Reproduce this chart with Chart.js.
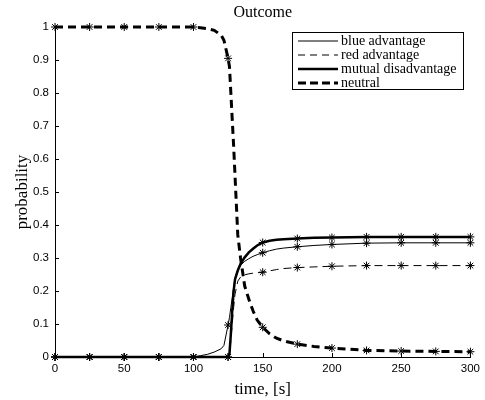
<!DOCTYPE html>
<html>
<head>
<meta charset="utf-8">
<script src="https://cdn.jsdelivr.net/npm/chart.js@4.4.0/dist/chart.umd.min.js"></script>
<style>
  html, body { margin: 0; padding: 0; background: #fff; }
  #wrap { width: 485px; height: 400px; }
</style>
</head>
<body>
<div id="wrap"><canvas id="outcome" width="485" height="400"></canvas></div>
<script>
// time samples, seconds
const times = [0, 25, 50, 75, 100, 105, 110, 115, 120, 122, 125, 126, 127, 128, 129, 130,
  132, 134, 137, 140, 143, 146, 150, 155, 160, 165, 175, 187, 200, 225, 250, 275, 300];

const blueAdvantage = [0, 0, 0, 0, 0, 0.004, 0.008, 0.015, 0.025, 0.035, 0.097, 0.12, 0.15, 0.18, 0.21, 0.24,
  0.265, 0.278, 0.29, 0.298, 0.305, 0.31, 0.316, 0.322, 0.327, 0.33, 0.334, 0.338, 0.341, 0.345, 0.346, 0.346, 0.346];

const redAdvantage = [0, 0, 0, 0, 0, 0, 0, 0, 0, 0, 0, 0.005, 0.05, 0.1, 0.15, 0.19,
  0.23, 0.242, 0.249, 0.252, 0.254, 0.255, 0.257, 0.261, 0.265, 0.268, 0.271, 0.273, 0.275, 0.277, 0.277, 0.277, 0.277];

const mutualDisadvantage = [0, 0, 0, 0, 0, 0, 0, 0, 0, 0, 0, 0.01, 0.07, 0.14, 0.2, 0.235,
  0.262, 0.282, 0.302, 0.317, 0.328, 0.338, 0.347, 0.352, 0.355, 0.357, 0.359, 0.361, 0.362, 0.364, 0.364, 0.364, 0.364];

const neutral = [1, 1, 1, 1, 1, 0.998, 0.995, 0.99, 0.975, 0.96, 0.905, 0.88, 0.8, 0.72, 0.64, 0.55,
  0.37, 0.3, 0.215, 0.175, 0.14, 0.112, 0.09, 0.07, 0.057, 0.049, 0.039, 0.032, 0.027, 0.02, 0.018, 0.017, 0.016];

const xTicks = [0, 50, 100, 150, 200, 250, 300];
const yTicks = [0, 0.1, 0.2, 0.3, 0.4, 0.5, 0.6, 0.7, 0.8, 0.9, 1];

const serif = "'Liberation Serif', 'DejaVu Serif', serif";
const sans = "'Liberation Sans', Arial, sans-serif";

function serie(label, values, width, dash) {
  return {
    label: label,
    data: times.map((t, i) => ({ x: t, y: values[i] })),
    borderColor: "#000",
    backgroundColor: "#000",
    borderWidth: width,
    borderDash: dash,
    tension: 0,
    fill: false,
    clip: false,
    pointStyle: "star",
    pointRadius: times.map((t) => (t % 25 === 0 ? 4 : 0)),
    pointBorderWidth: 1,
    pointBorderColor: "#000",
    pointHoverRadius: 0,
  };
}

const decor = {
  id: "decor",
  beforeDatasetsDraw(chart) {
    const ctx = chart.ctx;
    const area = chart.chartArea;
    const sx = chart.scales.x, sy = chart.scales.y;
    ctx.save();
    ctx.strokeStyle = "#000";
    ctx.lineWidth = 1;
    ctx.beginPath();
    xTicks.forEach((v) => {
      const px = Math.round(sx.getPixelForValue(v)) + 0.5;
      ctx.moveTo(px, area.bottom);
      ctx.lineTo(px, area.bottom - 4);
    });
    yTicks.forEach((v) => {
      const py = Math.round(sy.getPixelForValue(v)) + 0.5;
      ctx.moveTo(area.left, py);
      ctx.lineTo(area.left + 4, py);
    });
    ctx.stroke();
    ctx.restore();
  },
  afterDraw(chart) {
    const ctx = chart.ctx;
    const area = chart.chartArea;
    ctx.save();
    ctx.fillStyle = "#000";
    ctx.font = "16px " + serif;
    ctx.textAlign = "center";
    ctx.textBaseline = "middle";
    ctx.fillText("Outcome", (area.left + area.right) / 2, 13);

    // legend box
    ctx.strokeStyle = "#000";
    ctx.lineWidth = 1;
    ctx.strokeRect(292.5, 32.5, 171, 57);
    ctx.font = "14px " + serif;
    ctx.textAlign = "left";
    const legendDash = [[], [7, 5], [], [8, 4]];
    chart.data.datasets.forEach((ds, i) => {
      const y = 41 + i * 14;
      ctx.beginPath();
      ctx.setLineDash(legendDash[i]);
      ctx.lineWidth = ds.borderWidth;
      ctx.moveTo(298, y);
      ctx.lineTo(338, y);
      ctx.stroke();
      ctx.setLineDash([]);
      ctx.fillText(ds.label, 341, y);
    });
    ctx.restore();
  },
};

new Chart(document.getElementById("outcome"), {
  type: "line",
  data: {
    datasets: [
      serie("blue advantage", blueAdvantage, 1, []),
      serie("red advantage", redAdvantage, 1, [8, 5]),
      serie("mutual disadvantage", mutualDisadvantage, 2.5, []),
      serie("neutral", neutral, 3, [8, 5]),
    ],
  },
  options: {
    responsive: false,
    animation: false,
    devicePixelRatio: 1,
    layout: { padding: { top: 27, right: 13, left: 0, bottom: 0 } },
    plugins: { legend: { display: false }, tooltip: { enabled: false }, title: { display: false } },
    scales: {
      x: {
        type: "linear",
        min: 0,
        max: 300,
        afterBuildTicks: (s) => { s.ticks = xTicks.map((v) => ({ value: v })); },
        afterFit: (s) => { s.height = 43; },
        grid: { display: false, drawTicks: false },
        border: { display: true, color: "#000", width: 1 },
        ticks: { color: "#000", font: { family: sans, size: 11.5 }, padding: 5, maxRotation: 0 },
        title: { display: true, text: "time, [s]", color: "#000", font: { family: serif, size: 17 }, padding: { top: 0, bottom: 0 } },
      },
      y: {
        min: 0,
        max: 1,
        afterBuildTicks: (s) => { s.ticks = yTicks.map((v) => ({ value: v })); },
        afterFit: (s) => { s.width = 55; },
        grid: { display: false, drawTicks: false },
        border: { display: true, color: "#000", width: 1 },
        ticks: { color: "#000", font: { family: sans, size: 11.5 }, padding: 6, callback: (v) => String(Number(v.toFixed(1))) },
        title: { display: true, text: "probability", color: "#000", font: { family: serif, size: 17 }, padding: { top: 12, bottom: 0 } },
      },
    },
  },
  plugins: [decor],
});
</script>
</body>
</html>
